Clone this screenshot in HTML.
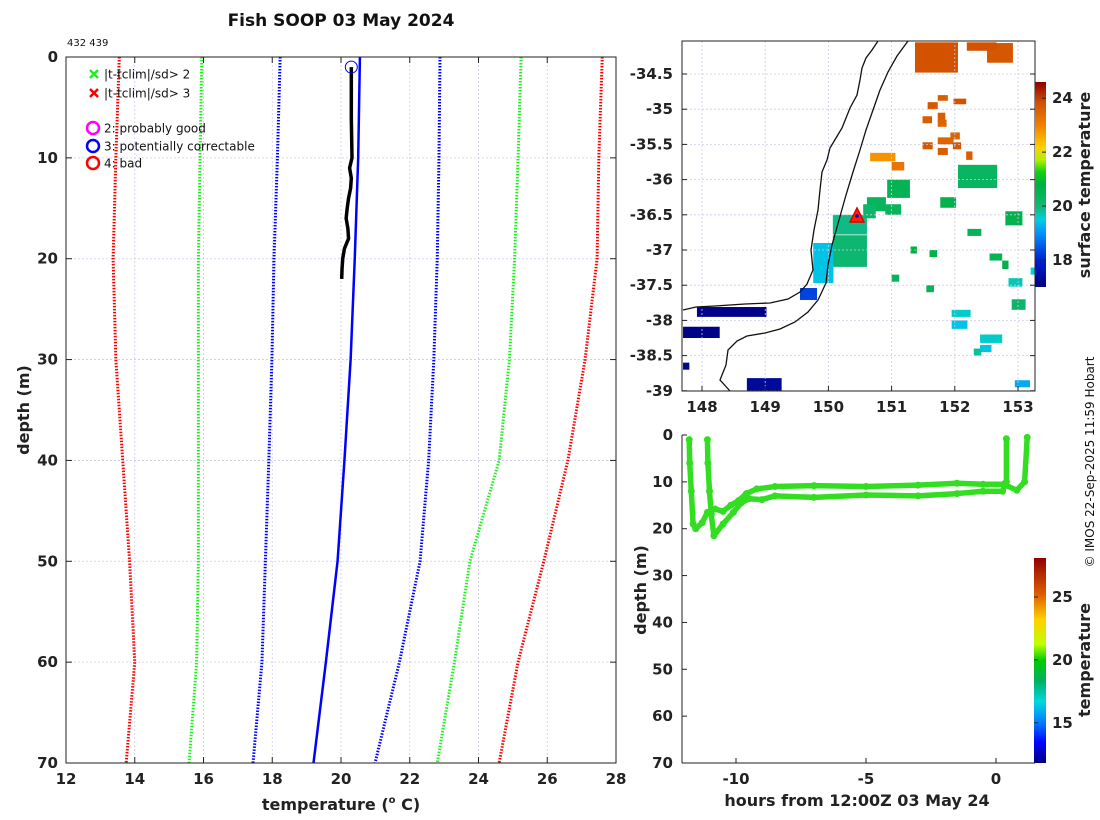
<!DOCTYPE html>
<html><head><meta charset="utf-8"><style>
body{margin:0;background:#fff;}
svg{display:block;font-family:"DejaVu Sans","Liberation Sans",sans-serif;}
.tk{font-size:15px;font-weight:bold;fill:#222;}
.lb{font-size:16px;font-weight:bold;fill:#222;}
</style></head><body>
<svg id="fig" width="1100" height="820" viewBox="0 0 1100 820">
<defs id="defs"></defs>
<text x="341" y="26" text-anchor="middle" font-size="17" font-weight="bold" fill="#111">Fish SOOP 03 May 2024</text>
<text x="67" y="46" font-size="10" fill="#111">432 439</text>
<g id="left"></g>
<g id="map"></g>
<g id="bot"></g>
<text transform="translate(1094,462) rotate(-90)" text-anchor="middle" font-size="12" fill="#111">© IMOS 22-Sep-2025 11:59 Hobart</text>
</svg>
<script>
// ===== Left profile plot data =====
const depthLevels=[0,10,20,30,40,50,60,70];
const redLow=[13.55,13.45,13.37,13.45,13.65,13.85,14.0,13.75];
const greenLow=[15.95,15.9,15.85,15.85,15.85,15.85,15.8,15.58];
const blueLow=[18.23,18.15,18.05,17.99,17.9,17.8,17.7,17.44];
const blueHigh=[22.88,22.85,22.8,22.7,22.55,22.3,21.7,20.99];
const greenHigh=[25.24,25.15,25.05,24.9,24.6,23.75,23.3,22.8];
const redHigh=[27.6,27.5,27.45,27.1,26.6,25.9,25.15,24.6];
const climMean=[20.55,20.5,20.4,20.28,20.1,19.9,19.56,19.2];
const obsDepth=[1,3,6,10,11,12,13,14,15,16,17,18,19,20,21,22];
const obsTemp=[20.3,20.3,20.3,20.32,20.25,20.3,20.28,20.22,20.18,20.15,20.2,20.22,20.1,20.05,20.03,20.02];
const tempTicks=[12,14,16,18,20,22,24,26,28];
const depthTicks=[0,10,20,30,40,50,60,70];

// ===== Bottom plot data =====
const hoursA=[-11.8,-11.78,-11.72,-11.65,-11.55,-11.3,-11.1,-10.8,-10.5,-10.2,-9.9,-9.6,-9.2,-8.5,-7,-5,-3,-1.5,-0.5,0.3,0.8,1.1,1.2];
const depthA=[1,6,12,19,20,18.7,16.5,15.8,16.3,15,14,12.5,11.5,11,10.8,11,10.7,10.3,10.5,10.5,11.8,10,0.5];
const hoursB=[-11.1,-11.08,-11.02,-10.95,-10.85,-10.5,-10.1,-9.8,-9.5,-9,-8.5,-7,-5,-3,-1.5,-0.5,0.25,0.4,0.4];
const depthB=[1,6,12,17,21.5,19,16.5,14.5,13.6,13.8,13,13.3,12.8,13,12.5,12,12,10,0.8];
const hourTicks=[-10,-5,0];
const botDepthTicks=[0,10,20,30,40,50,60,70];
const cbTicks2=[15,20,25];

// ===== Map data =====
const lonTicks=[148,149,150,151,152,153];
const latTicks=[-34.5,-35,-35.5,-36,-36.5,-37,-37.5,-38,-38.5,-39];
const cbTicks1=[18,20,22,24];
// patches: west lon, north lat, width (deg lon), height (deg lat), sst
const patchLon=[151.37,152.51,152.19,151.73,151.57,151.73,151.98,151.73,151.49,151.73,151.97,152.18,151.49,151.73,151.93,150.66,151.0,152.05,150.93,150.07,150.61,150.07,149.76,149.55,147.92,147.7,148.71,150.9,151.77,152.2,152.8,151.6,152.55,152.85,152.9,151.95,151.95,152.4,152.4,152.3,152.95,151.55,152.75,151.3,151.0,153.2,147.7,150.55];
const patchLat=[-34.05,-34.06,-34.05,-34.8,-34.9,-35.05,-34.85,-35.15,-35.47,-35.55,-35.47,-35.6,-35.1,-35.4,-35.33,-35.62,-35.75,-35.79,-36.0,-36.5,-36.25,-36.79,-36.9,-37.54,-37.81,-38.09,-38.82,-36.35,-36.25,-36.7,-36.45,-37.0,-37.05,-37.4,-37.7,-37.85,-38.0,-38.2,-38.35,-38.4,-38.85,-37.5,-37.15,-36.95,-37.35,-37.25,-38.6,-36.35];
const patchDLon=[0.68,0.41,0.47,0.16,0.16,0.12,0.2,0.14,0.16,0.16,0.13,0.1,0.15,0.25,0.15,0.4,0.2,0.62,0.36,0.54,0.3,0.54,0.32,0.27,1.1,0.58,0.55,0.25,0.25,0.22,0.27,0.12,0.2,0.22,0.22,0.3,0.25,0.35,0.18,0.12,0.24,0.12,0.1,0.1,0.12,0.12,0.1,0.2];
const patchDLat=[0.43,0.28,0.12,0.08,0.1,0.12,0.08,0.1,0.1,0.1,0.1,0.12,0.1,0.1,0.1,0.12,0.12,0.33,0.26,0.28,0.2,0.45,0.57,0.17,0.14,0.16,0.18,0.15,0.15,0.1,0.2,0.1,0.1,0.12,0.15,0.1,0.12,0.12,0.1,0.1,0.1,0.1,0.12,0.1,0.1,0.1,0.1,0.2];
const patchSst=[23.8,23.7,23.8,23.6,23.7,23.6,23.8,23.5,23.7,23.6,23.7,23.6,23.6,23.5,23.5,22.8,23.2,20.3,20.5,19.9,20.4,20.1,19.4,18.3,17.1,17.1,17.3,20.4,20.6,20.5,20.6,20.7,20.5,19.7,20.2,19.6,19.4,19.6,19.4,19.8,19.2,20.5,20.7,20.8,20.4,19.5,17.2,20.2];

const mapStops=[[0,'#00007f'],[0.13,'#0020d0'],[0.26,'#0090ff'],[0.33,'#00d0e0'],[0.39,'#10b878'],[0.5,'#00b040'],[0.56,'#10d010'],[0.62,'#b0f000'],[0.68,'#ffd000'],[0.79,'#f08000'],[0.9,'#d05000'],[1,'#900000']];
const botStops=[[0,'#00007f'],[0.1,'#0000ff'],[0.2,'#0080ff'],[0.3,'#00d8e0'],[0.4,'#00b060'],[0.5,'#00cc00'],[0.58,'#c0ff00'],[0.7,'#ffd000'],[0.82,'#e06000'],[1,'#900000']];

const NS="http://www.w3.org/2000/svg";
function mk(parent,tag,attrs){const e=document.createElementNS(NS,tag);for(const k in attrs)e.setAttribute(k,attrs[k]);parent.appendChild(e);return e;}
function hex(h){return [1,3,5].map(i=>parseInt(h.substr(i,2),16));}
function cmap(stops,t){t=Math.max(0,Math.min(1,t));
 for(let i=1;i<stops.length;i++){if(t<=stops[i][0]){const a=stops[i-1],b=stops[i];const f=(t-a[0])/(b[0]-a[0]);const ca=hex(a[1]),cb=hex(b[1]);return 'rgb('+ca.map((v,j)=>Math.round(v+(cb[j]-v)*f)).join(',')+')';}}
 return stops[stops.length-1][1];}
const defs=document.getElementById('defs');
[['jet',mapStops],['jet2',botStops]].forEach(g=>{const lg=mk(defs,'linearGradient',{id:g[0],x1:0,y1:1,x2:0,y2:0});g[1].forEach(s=>mk(lg,'stop',{offset:s[0],'stop-color':s[1]}));});

// ---------- LEFT PLOT ----------
(function(){
const g=document.getElementById('left');
const L=66,R=616,T=57,B=763;
const X=t=>L+(t-12)/16*(R-L), Y=d=>T+d/70*(B-T);
tempTicks.forEach(t=>{if(t>12&&t<28){const l=mk(g,'line',{x1:X(t),x2:X(t),y1:T,y2:B,stroke:'#c9cce6','stroke-width':0.8,'stroke-dasharray':'2 2'});}});
depthTicks.forEach(d=>{if(d>0&&d<70){const l=mk(g,'line',{x1:L,x2:R,y1:Y(d),y2:Y(d),stroke:'#c9cce6','stroke-width':0.8,'stroke-dasharray':'2 2'});}});
const series=[[redLow,'#ff0000','clim-3sd-low'],[greenLow,'#22ee22','clim-2sd-low'],[blueLow,'#0000ff','clim-1sd-low'],[blueHigh,'#0000ff','clim-1sd-high'],[greenHigh,'#22ee22','clim-2sd-high'],[redHigh,'#ff0000','clim-3sd-high']];
series.forEach(s=>{const p=mk(g,'polyline',{points:s[0].map((t,i)=>X(t)+','+Y(depthLevels[i])).join(' '),fill:'none',stroke:s[1],'stroke-width':3,'stroke-dasharray':'1.5 1.5'});});
const cm=mk(g,'polyline',{points:climMean.map((t,i)=>X(t)+','+Y(depthLevels[i])).join(' '),fill:'none',stroke:'#0000ff','stroke-width':2.5});

const ob=mk(g,'polyline',{points:obsTemp.map((t,i)=>X(t)+','+Y(obsDepth[i])).join(' '),fill:'none',stroke:'#000','stroke-width':3.5});

const qc=mk(g,'circle',{cx:X(obsTemp[0]),cy:Y(obsDepth[0]),r:6,fill:'none',stroke:'#0000ff','stroke-width':1});

const fr=mk(g,'rect',{x:L,y:T,width:R-L,height:B-T,fill:'none',stroke:'#222','stroke-width':1});

tempTicks.forEach(t=>{mk(g,'line',{x1:X(t),x2:X(t),y1:B,y2:B-6,stroke:'#222'});mk(g,'line',{x1:X(t),x2:X(t),y1:T,y2:T+6,stroke:'#222'});
 const tx=mk(g,'text',{x:X(t),y:B+21,'text-anchor':'middle',class:'tk'});tx.textContent=t;});
depthTicks.forEach(d=>{mk(g,'line',{x1:L,x2:L+6,y1:Y(d),y2:Y(d),stroke:'#222'});mk(g,'line',{x1:R,x2:R-6,y1:Y(d),y2:Y(d),stroke:'#222'});
 const tx=mk(g,'text',{x:L-8,y:Y(d)+5,'text-anchor':'end',class:'tk'});tx.textContent=d;});
const xl=mk(g,'text',{x:341,y:810,'text-anchor':'middle',class:'lb'});xl.innerHTML='temperature (<tspan font-size="10" dy="-7">o</tspan><tspan dy="7"> C)</tspan>';

const yl=mk(g,'text',{transform:'translate(29,410) rotate(-90)','text-anchor':'middle',class:'lb'});yl.textContent='depth (m)';

const leg=[['x','#22ee22','|t-tclim|/sd> 2',74],['x','#ff0000','|t-tclim|/sd> 3',93],['o','#ff00ff','2: probably good',128],['o','#0000ff','3: potentially correctable',146],['o','#ff0000','4: bad',163]];
leg.forEach(e=>{const gg=mk(g,'g',{});
 if(e[0]==='x'){mk(gg,'path',{d:`M90 ${e[3]-4}l8 8M98 ${e[3]-4}l-8 8`,stroke:e[1],'stroke-width':2.5});}
 else mk(gg,'circle',{cx:93,cy:e[3],r:6,fill:'none',stroke:e[1],'stroke-width':2.5});
 const t=mk(gg,'text',{x:104,y:e[3]+4.5,'font-size':12,fill:'#111'});t.textContent=e[2];});
})();

// ---------- MAP ----------
(function(){
const g=document.getElementById('map');
const L=682,R=1035,T=41,B=391;
const X=lon=>702+(lon-148)*63.2, Y=lat=>74+(-34.5-lat)*70.4;
const cbT=82,cbB=287,cMin=17.0,cMax=24.6;
mk(g,'rect',{x:L,y:T,width:R-L,height:B-T,fill:'#fff'});
const cp=mk(defs,'clipPath',{id:'mapclip'});mk(cp,'rect',{x:L,y:T,width:R-L,height:B-T});
const pg=mk(g,'g',{'clip-path':'url(#mapclip)'});
patchLon.forEach((lo,i)=>{const r=mk(pg,'rect',{x:X(lo),y:Y(patchLat[i]),width:patchDLon[i]*63.2,height:patchDLat[i]*70.4,fill:cmap(mapStops,(patchSst[i]-cMin)/(cMax-cMin))});
 });
lonTicks.forEach(l=>{const a=mk(g,'line',{x1:X(l),x2:X(l),y1:T,y2:B,stroke:'#c9cce6','stroke-width':0.8,'stroke-dasharray':'2 2'});});
latTicks.forEach(l=>{const a=mk(g,'line',{x1:L,x2:R,y1:Y(l),y2:Y(l),stroke:'#c9cce6','stroke-width':0.8,'stroke-dasharray':'2 2'});});
const coast=mk(g,'path',{d:'M878 41 L872 50 L866 58 L862 68 L860 80 L857 95 L850 108 L846 118 L842 128 L836 138 L830 148 L827 160 L822 172 L820 190 L818 210 L814 230 L811 250 L813 270 L807 284 L800 292 L788 299 L770 303 L745 304 L715 306 L696 307 L683 310',fill:'none',stroke:'#111','stroke-width':1.3});

const shelf=mk(g,'path',{d:'M908 41 L897 56 L888 72 L880 90 L873 110 L866 130 L860 150 L853 172 L846 195 L839 220 L832 245 L828 265 L826 283 L818 300 L808 312 L795 322 L780 329 L765 333 L747 336 L737 341 L728 350 L726 365 L720 380 L730 391',fill:'none',stroke:'#111','stroke-width':1.3});

const tri=mk(g,'path',{d:'M857 208 L864 222 L850 222 Z',fill:'#ff2200',stroke:'#dd0000','stroke-width':1.5});

mk(g,'circle',{cx:857,cy:216,r:1.8,fill:'#0000cc'});
const fr=mk(g,'rect',{x:L,y:T,width:R-L,height:B-T,fill:'none',stroke:'#222'});
lonTicks.forEach(l=>{mk(g,'line',{x1:X(l),x2:X(l),y1:B,y2:B-5,stroke:'#222'});const t=mk(g,'text',{x:X(l),y:B+21,'text-anchor':'middle',class:'tk'});t.textContent=l;});
latTicks.forEach(l=>{mk(g,'line',{x1:L,x2:L+5,y1:Y(l),y2:Y(l),stroke:'#222'});mk(g,'line',{x1:R,x2:R-5,y1:Y(l),y2:Y(l),stroke:'#222'});const t=mk(g,'text',{x:L-9,y:Y(l)+5,'text-anchor':'end',class:'tk'});t.textContent=l;});
const cb=mk(g,'rect',{x:1035,y:cbT,width:11,height:cbB-cbT,fill:'url(#jet)'});
cbTicks1.forEach(v=>{const y=cbB-(v-cMin)/(cMax-cMin)*(cbB-cbT);mk(g,'line',{x1:1046,x2:1042,y1:y,y2:y,stroke:'#222'});const t=mk(g,'text',{x:1052,y:y+5,class:'tk','font-size':14});t.textContent=v;});
const cl=mk(g,'text',{transform:'translate(1090,185) rotate(-90)','text-anchor':'middle',class:'lb','font-size':15});cl.textContent='surface temperature';
})();

// ---------- BOTTOM PLOT ----------
(function(){
const g=document.getElementById('bot');
const L=682,R=1035,T=435,B=763;
const X=h=>996+h*26, Y=d=>T+d/70*(B-T);
const cbT=558,cbB=763,cMin=11.8,cMax=28.1;
[[hoursA,depthA,'track-a'],[hoursB,depthB,'track-b']].forEach(s=>{
 const p=mk(g,'polyline',{points:s[0].map((h,i)=>X(h)+','+Y(s[1][i])).join(' '),fill:'none',stroke:'#33dd22','stroke-width':5.5,'stroke-linejoin':'round','stroke-linecap':'round'});
 
 s[0].forEach((h,i)=>{const c=mk(g,'circle',{cx:X(h),cy:Y(s[1][i]),r:3.5,fill:'#33dd22'});});
});
mk(g,'line',{x1:L,x2:R,y1:B,y2:B,stroke:'#222'});mk(g,'line',{x1:L,x2:L,y1:T,y2:B,stroke:'#222'});
hourTicks.forEach(h=>{mk(g,'line',{x1:X(h),x2:X(h),y1:B,y2:B-5,stroke:'#222'});const t=mk(g,'text',{x:X(h),y:B+21,'text-anchor':'middle',class:'tk'});t.textContent=h;});
botDepthTicks.forEach(d=>{mk(g,'line',{x1:L,x2:L+5,y1:Y(d),y2:Y(d),stroke:'#222'});const t=mk(g,'text',{x:L-9,y:Y(d)+5,'text-anchor':'end',class:'tk'});t.textContent=d;});
const xl=mk(g,'text',{x:857,y:806,'text-anchor':'middle',class:'lb'});xl.textContent='hours from 12:00Z 03 May 24';
const yl=mk(g,'text',{transform:'translate(646,590) rotate(-90)','text-anchor':'middle',class:'lb'});yl.textContent='depth (m)';
const cb=mk(g,'rect',{x:1034,y:cbT,width:12,height:cbB-cbT,fill:'url(#jet2)'});
cbTicks2.forEach(v=>{const y=cbB-(v-cMin)/(cMax-cMin)*(cbB-cbT);mk(g,'line',{x1:1034,x2:1038,y1:y,y2:y,stroke:'#222'});const t=mk(g,'text',{x:1052,y:y+5,class:'tk','font-size':14});t.textContent=v;});
const cl=mk(g,'text',{transform:'translate(1090,660) rotate(-90)','text-anchor':'middle',class:'lb','font-size':15});cl.textContent='temperature';
})();
</script>
</body></html>
